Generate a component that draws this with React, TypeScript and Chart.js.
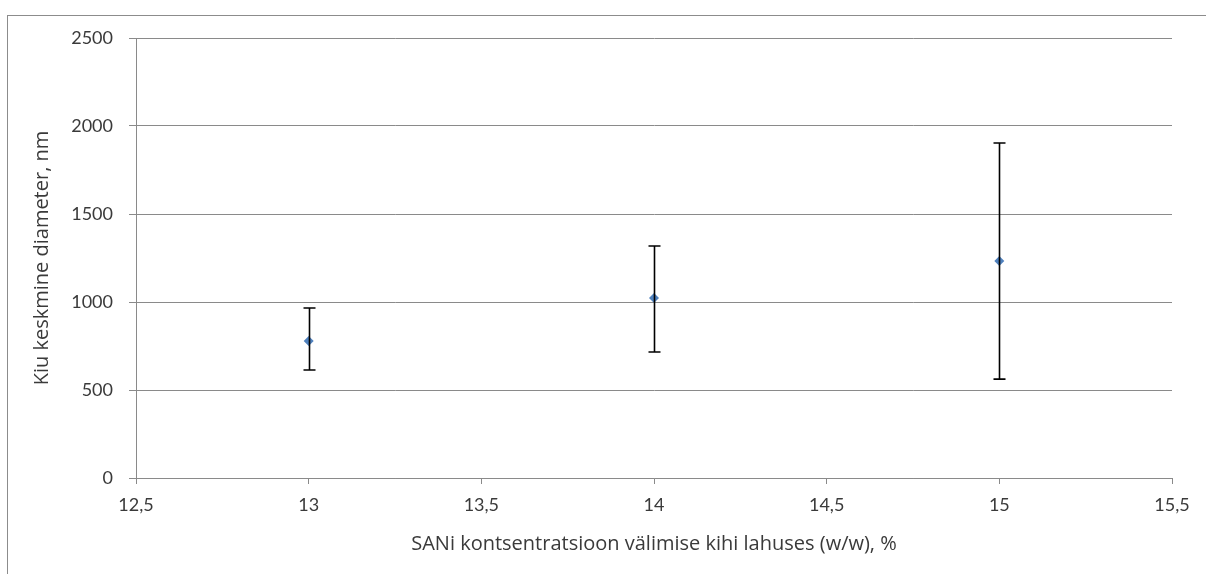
import React, { useEffect, useRef } from "react";
import { Chart, registerables } from "chart.js";

Chart.register(...registerables);

const concentrations = [13, 14, 15];
const meanDiameters = [778, 1023, 1233];
const lowerBounds = [614, 716, 562];
const upperBounds = [966, 1318, 1903];

const xTitle = "SANi kontsentratsioon välimise kihi lahuses (w/w), %";
const yTitle = "Kiu keskmine diameter, nm";

const TICK_FONT = "Lato, 'Open Sans', sans-serif";
const TITLE_FONT = "'Open Sans', Lato, sans-serif";
const TEXT = "#3a3a3a";
const GRID = "#8a8a8a";

const errorBarPlugin = {
  id: "errorBars",
  afterDatasetsDraw(chart: any) {
    const { ctx, scales } = chart;
    const xs = scales.x;
    const ys = scales.y;
    ctx.save();
    ctx.strokeStyle = "#000000";
    ctx.lineWidth = 1.6;
    concentrations.forEach((c, i) => {
      const px = Math.round(xs.getPixelForValue(c)) + 0.5;
      const yLo = ys.getPixelForValue(lowerBounds[i]);
      const yHi = ys.getPixelForValue(upperBounds[i]);
      ctx.beginPath();
      ctx.moveTo(px, yLo);
      ctx.lineTo(px, yHi);
      ctx.moveTo(px - 6, yLo);
      ctx.lineTo(px + 6, yLo);
      ctx.moveTo(px - 6, yHi);
      ctx.lineTo(px + 6, yHi);
      ctx.stroke();
    });
    ctx.restore();
  },
};

const frameBorderPlugin = {
  id: "frameBorder",
  beforeDraw(chart: any) {
    const { ctx } = chart;
    ctx.save();
    ctx.fillStyle = "#ffffff";
    ctx.fillRect(0, 0, chart.width, chart.height);
    ctx.strokeStyle = "#8c8c8c";
    ctx.lineWidth = 1;
    ctx.strokeRect(7.5, 15.5, chart.width + 50, chart.height + 50);
    ctx.restore();
  },
};

export default function App() {
  const canvasRef = useRef<HTMLCanvasElement | null>(null);

  useEffect(() => {
    if (!canvasRef.current) return;
    const chart = new Chart(canvasRef.current, {
      type: "scatter",
      data: {
        datasets: [
          {
            label: "Kiu keskmine diameter",
            data: concentrations.map((c, i) => ({ x: c, y: meanDiameters[i] })),
            pointStyle: "rectRot",
            pointRadius: 5,
            backgroundColor: "#4f81bd",
            borderColor: "#4f81bd",
            borderWidth: 0,
            showLine: false,
          },
        ],
      },
      options: {
        responsive: false,
        animation: false,
        layout: { padding: { left: 30, top: 38, right: 34, bottom: 8 } },
        plugins: {
          legend: { display: false },
          tooltip: { enabled: false },
        },
        scales: {
          x: {
            type: "linear",
            min: 12.5,
            max: 15.5,
            afterFit: (scale: any) => {
              scale.height = 88;
            },
            ticks: {
              stepSize: 0.5,
              color: TEXT,
              padding: 10,
              font: { family: TICK_FONT, size: 18 },
              callback: (v: any) => String(v).replace(".", ","),
            },
            grid: {
              drawOnChartArea: false,
              drawTicks: true,
              tickLength: 6,
              color: GRID,
            },
            border: { display: true, color: GRID, width: 1 },
            title: {
              display: true,
              text: xTitle,
              color: TEXT,
              font: { family: TITLE_FONT, size: 20 },
              padding: { top: 4, bottom: 10 },
            },
          },
          y: {
            type: "linear",
            min: 0,
            max: 2500,
            afterFit: (scale: any) => {
              scale.width = 106;
            },
            ticks: {
              stepSize: 500,
              color: TEXT,
              padding: 16,
              font: { family: TICK_FONT, size: 18 },
              callback: (v: any) => String(v),
            },
            grid: {
              drawTicks: true,
              tickLength: 7,
              color: GRID,
              lineWidth: 1,
            },
            border: { display: true, color: GRID, width: 1 },
            title: {
              display: true,
              text: yTitle,
              color: TEXT,
              font: { family: TITLE_FONT, size: 20 },
              padding: { top: 0, bottom: 4 },
            },
          },
        },
      },
      plugins: [frameBorderPlugin, errorBarPlugin],
    });
    return () => chart.destroy();
  }, []);

  return (
    <div style={{ position: "absolute", left: 0, top: 0, width: 1206, height: 574, background: "#fff" }}>
      <canvas ref={canvasRef} width={1206} height={574} style={{ display: "block" }} />
    </div>
  );
}
